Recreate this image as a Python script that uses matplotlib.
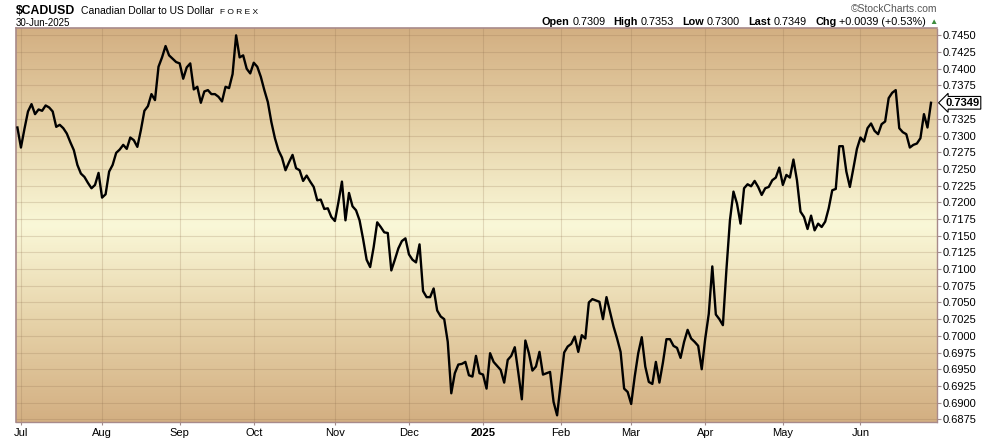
import numpy as np
import pandas as pd
import matplotlib
matplotlib.use("Agg")
import matplotlib.pyplot as plt
from matplotlib.colors import LinearSegmentedColormap

plt.rcParams['font.family'] = ['Liberation Sans', 'DejaVu Sans']

# daily closes of $CADUSD, 28-Jun-2024 .. 30-Jun-2025
closes = [
    0.7312, 0.7282, 0.7310, 0.7336, 0.7347, 0.7332, 0.7339, 0.7337, 0.7345, 0.7342,
    0.7336, 0.7313, 0.7316, 0.7311, 0.7303, 0.7290, 0.7278, 0.7256, 0.7243, 0.7238,
    0.7229, 0.7221, 0.7226, 0.7244, 0.7207, 0.7212, 0.7246, 0.7256, 0.7274, 0.7279,
    0.7286, 0.7280, 0.7297, 0.7293, 0.7283, 0.7308, 0.7337, 0.7344, 0.7362, 0.7353,
    0.7403, 0.7417, 0.7434, 0.7420, 0.7415, 0.7410, 0.7408, 0.7385, 0.7402, 0.7408,
    0.7369, 0.7373, 0.7349, 0.7366, 0.7368, 0.7362, 0.7362, 0.7358, 0.7351, 0.7373,
    0.7371, 0.7392, 0.7450, 0.7417, 0.7420, 0.7400, 0.7393, 0.7409, 0.7403, 0.7388,
    0.7368, 0.7350, 0.7320, 0.7296, 0.7278, 0.7267, 0.7248, 0.7260, 0.7271, 0.7251,
    0.7248, 0.7232, 0.7240, 0.7231, 0.7223, 0.7203, 0.7204, 0.7190, 0.7191, 0.7178,
    0.7172, 0.7200, 0.7231, 0.7173, 0.7214, 0.7194, 0.7188, 0.7173, 0.7145, 0.7114,
    0.7103, 0.7133, 0.7170, 0.7163, 0.7155, 0.7154, 0.7098, 0.7114, 0.7131, 0.7142,
    0.7146, 0.7122, 0.7114, 0.7110, 0.7137, 0.7067, 0.7058, 0.7058, 0.7071, 0.7038,
    0.7029, 0.7025, 0.6991, 0.6914, 0.6944, 0.6957, 0.6958, 0.6961, 0.6941, 0.6939,
    0.6970, 0.6944, 0.6942, 0.6921, 0.6974, 0.6961, 0.6955, 0.6949, 0.6930, 0.6964,
    0.6970, 0.6983, 0.6945, 0.6905, 0.6993, 0.6974, 0.6948, 0.6954, 0.6976, 0.6942,
    0.6944, 0.6946, 0.6901, 0.6881, 0.6928, 0.6975, 0.6984, 0.6988, 0.6999, 0.6976,
    0.7001, 0.6996, 0.7050, 0.7055, 0.7053, 0.7051, 0.7025, 0.7058, 0.7036, 0.7014,
    0.6996, 0.6976, 0.6921, 0.6916, 0.6898, 0.6939, 0.6974, 0.6998, 0.6954, 0.6931,
    0.6928, 0.6961, 0.6930, 0.6960, 0.6995, 0.6995, 0.6985, 0.6982, 0.6967, 0.6991,
    0.7009, 0.6996, 0.6991, 0.6985, 0.6950, 0.6996, 0.7033, 0.7104, 0.7032, 0.7025,
    0.7016, 0.7099, 0.7173, 0.7216, 0.7198, 0.7168, 0.7221, 0.7227, 0.7224, 0.7232,
    0.7223, 0.7211, 0.7221, 0.7223, 0.7233, 0.7237, 0.7252, 0.7226, 0.7241, 0.7237,
    0.7264, 0.7233, 0.7186, 0.7178, 0.7160, 0.7180, 0.7158, 0.7168, 0.7163, 0.7171,
    0.7191, 0.7218, 0.7220, 0.7284, 0.7284, 0.7246, 0.7223, 0.7251, 0.7280, 0.7297,
    0.7291, 0.7311, 0.7318, 0.7307, 0.7302, 0.7317, 0.7321, 0.7356, 0.7364, 0.7368,
    0.7311, 0.7305, 0.7302, 0.7282, 0.7286, 0.7288, 0.7296, 0.7332, 0.7312, 0.7349,
]
holidays = ["2024-12-25", "2025-01-01"]
price_ticks = [0.6875, 0.6900, 0.6925, 0.6950, 0.6975, 0.7000, 0.7025, 0.7050,
               0.7075, 0.7100, 0.7125, 0.7150, 0.7175, 0.7200, 0.7225, 0.7250,
               0.7275, 0.7300, 0.7325, 0.7350, 0.7375, 0.7400, 0.7425, 0.7450]
info = [("Open", "0.7309"), ("High", "0.7353"), ("Low", "0.7300"),
        ("Last", "0.7349"), ("Chg", "+0.0039 (+0.53%)")]

dates = pd.bdate_range("2024-06-28", "2025-06-30", freq="C", holidays=holidays)
idx = np.arange(len(dates))

# first trading day of each month -> x ticks
s = pd.Series(idx, index=dates)
firsts = s.groupby([dates.year, dates.month]).first().iloc[1:]
tick_pos = list(firsts.values)
tick_lab = []
for (yr, mo) in firsts.index:
    tick_lab.append(str(yr) if mo == 1 else pd.Timestamp(yr, mo, 1).strftime("%b"))

W, H = 990, 438
fig = plt.figure(figsize=(W / 100, H / 100), dpi=100)
ax = fig.add_axes([16 / W, 16 / H, 921 / W, 394 / H])

# tan -> cream -> tan background
cmap = LinearSegmentedColormap.from_list("bg", ["#d3af82", "#e6d2a8", "#faf8d8", "#e6d2a8", "#d3af82"])
grad = np.linspace(0, 1, 256).reshape(-1, 1)
ax.imshow(grad, extent=[0, 1, 0, 1], transform=ax.transAxes, aspect="auto",
          cmap=cmap, zorder=0)

ax.plot(idx, closes, color="black", lw=1.7, zorder=3)

ax.set_xlim(-0.4, 260.7)
ax.set_ylim(0.6871, 0.7461)

ax.yaxis.tick_right()
ax.set_yticks(price_ticks)
ax.set_yticklabels(["" if abs(t - 0.7350) < 1e-6 else f"{t:.4f}" for t in price_ticks])
ax.set_xticks(tick_pos)
ax.set_xticklabels(tick_lab)
for lab in ax.get_xticklabels():
    if lab.get_text() == "2025":
        lab.set_fontweight("bold")

ax.grid(True, color="#8c6c4c", alpha=0.22, lw=0.8, zorder=1)
ax.tick_params(axis="y", length=3, pad=1, labelsize=8, color="#a08c8c")
ax.tick_params(axis="x", length=2, pad=2, labelsize=8, color="#a08c8c")

bc = "#a88a8a"
for side in ["left", "top"]:
    ax.spines[side].set_color(bc)
    ax.spines[side].set_linewidth(1.2)
for side in ["right", "bottom"]:
    ax.spines[side].set_color(bc)
    ax.spines[side].set_linestyle((0, (1, 1)))
    ax.spines[side].set_linewidth(1.0)

# last value tag
ax.annotate("0.7349", xy=(1, closes[-1]), xycoords=("axes fraction", "data"),
            xytext=(6, 0), textcoords="offset points", ha="left", va="center",
            fontsize=8, fontweight="bold", annotation_clip=False, zorder=5,
            bbox=dict(boxstyle="larrow,pad=0.12", fc="white", ec="black", lw=0.8))


def px(x, y):
    return x / W, 1 - y / H


fig.text(*px(16, 13.5), "$CADUSD", fontsize=8.8, fontweight="bold", va="baseline")
fig.text(*px(81, 13.5), "Canadian Dollar to US Dollar", fontsize=7.5, va="baseline")
fig.text(*px(220, 13.5), "F O R E X", fontsize=6, va="baseline")
fig.text(*px(16, 25.5), "30-Jun-2025", fontsize=7, va="baseline")
fig.text(*px(937, 12), "\u00a9StockCharts.com", fontsize=7.5, color="#555555",
         ha="right", va="baseline")

# Open / High / Low / Last / Chg line, chained right to left so it ends before the arrow
prev = None
for lab, val in reversed(info):
    if prev is None:
        prev = fig.text(*px(926, 25), val, fontsize=7.8, ha="right", va="baseline")
    else:
        prev = fig.add_artist(plt.Annotation(val, xy=(0, 0), xycoords=prev, xytext=(-6, 0),
                                             textcoords="offset points", fontsize=7.8,
                                             ha="right", va="bottom"))
    prev = fig.add_artist(plt.Annotation(lab, xy=(0, 0), xycoords=prev, xytext=(-2, 0),
                                         textcoords="offset points", fontsize=7.8,
                                         fontweight="bold", ha="right", va="bottom"))
fig.text(*px(933, 24.5), "\u25b2", fontsize=6, color="#3c8c3c", ha="center", va="baseline")

fig.savefig("out.png", dpi=100)
